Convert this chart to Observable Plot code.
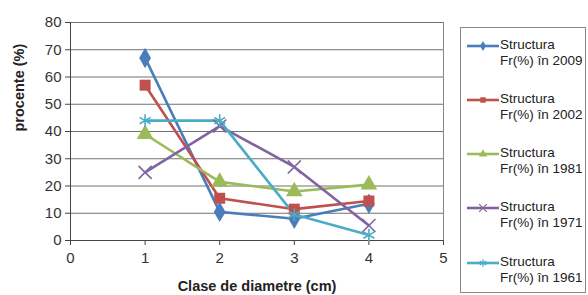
<!DOCTYPE html>
<html><head><meta charset="utf-8">
<script src="https://cdn.jsdelivr.net/npm/d3@7"></script>
<script src="https://cdn.jsdelivr.net/npm/@observablehq/plot@0.6"></script>
<style>
body{margin:0;background:#fff;font-family:"Liberation Sans",Arial,sans-serif;}
#wrap{position:relative;width:588px;height:295px;}
#legend{position:absolute;left:460px;top:27px;width:126px;height:266px;border:1px solid #888;box-sizing:border-box;background:#fff;}
.li{position:absolute;left:5px;display:flex;align-items:flex-start;font-size:13.5px;line-height:16px;color:#222;}
.li svg{margin-top:2px;}
</style></head><body>
<div id="wrap"><div id="chart"></div><div id="legend"></div></div>
<script>
const classes = [1, 2, 3, 4];
const seriesNames = ["Structura Fr(%) în 2009","Structura Fr(%) în 2002","Structura Fr(%) în 1981","Structura Fr(%) în 1971","Structura Fr(%) în 1961"];
const v2009 = [67, 10.5, 8, 13.5];
const v2002 = [57, 15.5, 11.5, 14.5];
const v1981 = [39, 21.5, 18, 20.5];
const v1971 = [25, 42, 27, 5.5];
const v1961 = [44, 44, 9.5, 2];
const xTicks = [0,1,2,3,4,5];
const yTicks = [0,10,20,30,40,50,60,70,80];
const colors = ["#4A7EBB","#C0504D","#9BBB59","#8064A2","#4BACC6"];
const symbols = ["diamond","square","triangle","times","asterisk"];
const allVals = [v2009, v2002, v1981, v1971, v1961];

const data = [];
allVals.forEach((vals, i) => classes.forEach((c, j) => data.push({x: c, y: vals[j], s: seriesNames[i]})));

const plot = Plot.plot({
  width: 588, height: 295,
  marginLeft: 70, marginRight: 145, marginTop: 22, marginBottom: 55,
  style: {fontFamily: "Liberation Sans, Arial, sans-serif", fontSize: "15px", color: "#333", background: "#fff"},
  x: {domain: [0, 5], ticks: xTicks, label: null},
  y: {domain: [0, 80], ticks: yTicks, label: null},
  color: {domain: seriesNames, range: colors},
  symbol: {domain: seriesNames, range: symbols},
  marks: [
    Plot.gridY(yTicks, {stroke: "#444", strokeOpacity: 0.85, strokeWidth: 0.9}),
    Plot.ruleX([5], {stroke: "#888", strokeWidth: 1}),
    Plot.axisX({ticks: xTicks, tickFormat: "d", tickSize: 5, tickPadding: 7, fontSize: 15, stroke: "#444", label: null}),
    Plot.axisY({ticks: yTicks, tickFormat: "d", tickSize: 5, tickPadding: 4, fontSize: 15, stroke: "#444", label: null}),
    Plot.ruleY([0], {stroke: "#444"}),
    Plot.ruleX([0], {stroke: "#444"}),
    Plot.line(data, {x: "x", y: "y", z: "s", stroke: "s", strokeWidth: 2.6}),
    Plot.dot(data.filter(d => ["diamond","square","triangle"].includes(symbols[seriesNames.indexOf(d.s)])), {x: "x", y: "y", symbol: "s", fill: "s", r: 6.2}),
    Plot.dot(data.filter(d => ["times","asterisk"].includes(symbols[seriesNames.indexOf(d.s)])), {x: "x", y: "y", symbol: "s", stroke: "s", r: 6, strokeWidth: 1.6}),
    Plot.text(["Clase de diametre (cm)"], {frameAnchor: "bottom", dy: 50, fontWeight: "bold", fontSize: 14.5, fill: "#222"}),
    Plot.text(["procente (%)"], {frameAnchor: "left", dx: -51, rotate: -90, fontWeight: "bold", fontSize: 14.5, fill: "#222"})
  ]
});
document.getElementById("chart").appendChild(plot);

const leg = document.getElementById("legend");
const tops = [9, 63, 117, 171, 226];
seriesNames.forEach((name, i) => {
  const div = document.createElement("div");
  div.className = "li";
  div.style.top = tops[i] + "px";
  const sw = d3.create("svg").attr("width", 34).attr("height", 14);
  sw.append("line").attr("x1", 1).attr("x2", 33).attr("y1", 7).attr("y2", 7).attr("stroke", colors[i]).attr("stroke-width", 2.6);
  const sym = d3.symbol().type({diamond: d3.symbolDiamond, square: d3.symbolSquare, triangle: d3.symbolTriangle, times: d3.symbolTimes, asterisk: d3.symbolAsterisk}[symbols[i]]).size(i < 3 ? 30 : 40);
  const filled = i < 3;
  sw.append("path").attr("d", sym()).attr("transform", "translate(17,7)")
    .attr("fill", filled ? colors[i] : "none").attr("stroke", filled ? "none" : colors[i]).attr("stroke-width", 1.2);
  div.appendChild(sw.node());
  const t = document.createElement("div");
  const parts = name.split(" Fr");
  t.innerHTML = parts[0] + "<br>Fr" + parts[1];
  div.appendChild(t);
  leg.appendChild(div);
});
</script></body></html>
